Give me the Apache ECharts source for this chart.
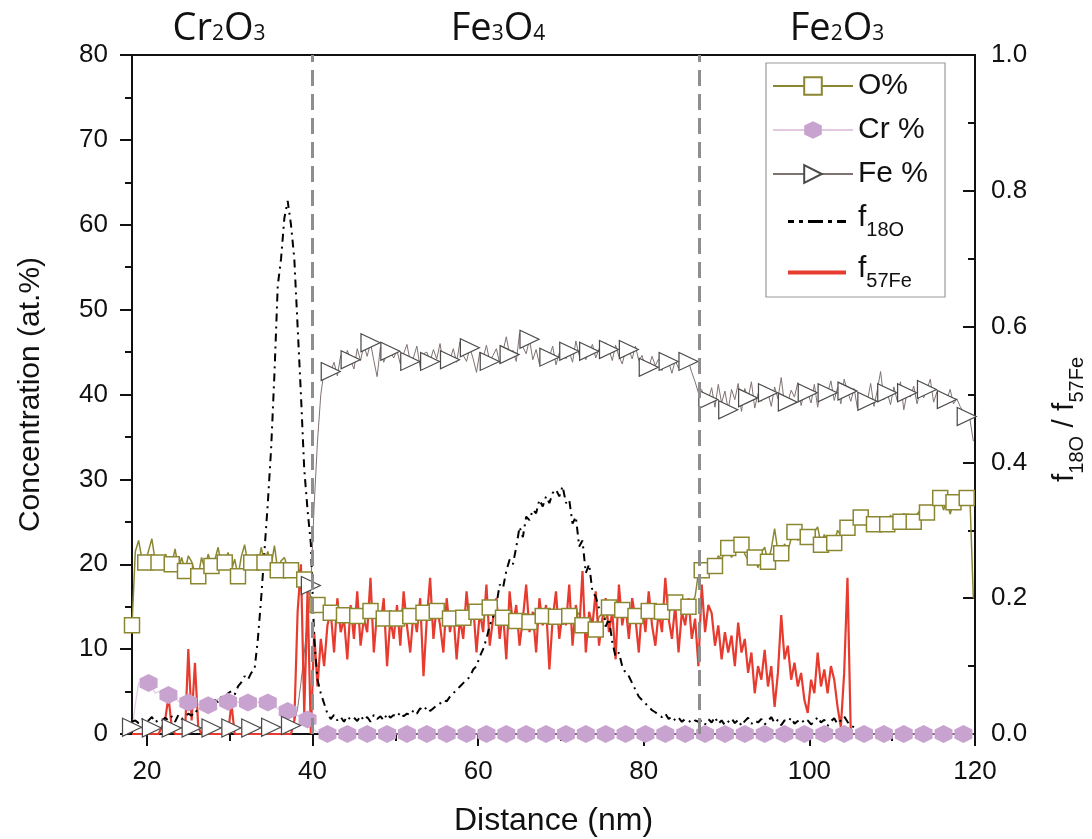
<!DOCTYPE html>
<html>
<head>
<meta charset="utf-8">
<script src="https://cdn.jsdelivr.net/npm/echarts@6/dist/echarts.min.js"></script>
<style>html,body{margin:0;padding:0;background:#fff}#c{width:1092px;height:839px}</style>
</head>
<body>
<div id="c"></div>
<script>
// Sampling grid of the depth profile (nm)
const X_START = 18.2;
const X_STEP = 0.4;

// O at.% (left axis)
const oPct = [
  12.8, 21.5, 22.8, 20.6, 20.2, 21.6, 23.0, 20.4, 20.2, 19.6,
  21.2, 20.4, 20.0, 21.8, 19.5, 20.8, 19.2, 21.0, 20.3, 19.0,
  18.6, 20.8, 19.4, 21.2, 19.8, 20.5, 22.0, 19.8, 20.2, 21.4,
  19.2, 20.6, 18.6, 20.9, 22.3, 20.0, 20.2, 21.1, 19.6, 22.0,
  20.2, 21.5, 19.8, 22.2, 19.3, 20.4, 20.8, 19.6, 19.3, 19.8,
  19.6, 19.0, 18.2, 17.0, 16.2, 15.8, 15.2, 15.0, 14.6, 14.2,
  14.3, 13.6, 14.4, 13.9, 14.0, 14.6, 13.8, 14.2, 13.9, 13.4,
  13.8, 14.3, 14.5, 13.7, 14.1, 14.0, 13.6, 14.4, 14.2, 13.8,
  13.6, 14.4, 14.8, 14.0, 13.9, 14.3, 13.5, 14.1, 14.3, 14.6,
  13.8, 14.0, 14.5, 13.9, 15.0, 14.2, 13.6, 14.0, 13.8, 14.5,
  13.7, 14.2, 14.0, 13.6, 14.4, 14.1, 13.5, 14.9, 14.9, 14.2,
  13.8, 14.3, 13.7, 14.0, 14.6, 13.9, 13.3, 14.1, 13.6, 14.2,
  13.2, 14.0, 14.4, 13.7, 13.9, 14.2, 13.6, 14.5, 13.8, 14.0,
  13.4, 14.1, 13.9, 13.5, 13.8, 14.3, 12.8, 13.6, 12.3, 13.4,
  12.3, 13.8, 14.2, 13.5, 14.9, 14.0, 14.4, 13.8, 14.6, 14.2,
  14.0, 14.6, 13.9, 14.3, 14.9, 14.1, 14.5, 13.8, 14.2, 14.6,
  14.4, 14.8, 14.2, 15.0, 15.5, 14.9, 14.6, 15.2, 15.0, 15.4,
  16.2, 19.0,
  19.3, 18.4, 20.4, 19.2, 19.8, 21.0, 20.6, 21.4, 21.9, 20.8,
  21.6, 22.8, 22.3, 21.2, 20.5, 21.6, 20.8, 19.6, 21.4, 22.0,
  20.3, 21.8, 24.2, 21.5, 21.3, 22.4, 21.6, 23.0, 23.8, 22.8,
  23.6, 22.4, 23.2, 22.6, 23.8, 24.4, 22.3, 23.5, 22.8, 23.2,
  22.5, 24.0, 23.4, 24.8, 24.3, 23.6, 24.6, 25.2, 25.5, 24.6,
  25.4, 24.2, 24.7, 25.6, 23.8, 25.2, 24.7, 25.8, 24.9, 25.4,
  25.0, 26.0, 25.3, 24.6, 25.0, 25.9, 26.4, 25.5, 26.1, 27.0,
  26.5, 27.8, 27.8, 26.4, 27.4, 25.9, 27.3, 26.8, 27.6, 27.2,
  27.8, 27.4, 16.0
];

// Cr at.% (left axis)
const crPct = [
  0.3, 3.5, 6.0, 6.2, 5.8, 6.0, 5.5, 4.8, 5.0, 4.6,
  4.4, 4.6, 4.2, 4.5, 3.8, 4.0, 3.6, 3.7, 3.4, 3.9,
  3.5, 3.2, 3.6, 3.4, 4.0, 3.6, 4.2, 3.7, 3.9, 3.8,
  3.5, 4.1, 3.7, 3.9, 3.4, 3.7, 4.0, 3.5, 3.8, 3.3,
  3.9, 3.7, 3.4, 3.2, 3.0, 2.9, 2.8, 2.7, 2.5, 2.3,
  2.2, 2.0, 1.9, 1.7, 1.2, 0.5, 0.2, 0.1, 0.1, 0,
  0, 0, 0, 0, 0, 0, 0, 0, 0, 0,
  0, 0, 0, 0, 0, 0, 0, 0, 0, 0,
  0, 0, 0, 0, 0, 0, 0, 0, 0, 0,
  0, 0, 0, 0, 0, 0, 0, 0, 0, 0,
  0, 0, 0, 0, 0, 0, 0, 0, 0, 0,
  0, 0, 0, 0, 0, 0, 0, 0, 0, 0,
  0, 0, 0, 0, 0, 0, 0, 0, 0, 0,
  0, 0, 0, 0, 0, 0, 0, 0, 0, 0,
  0, 0, 0, 0, 0, 0, 0, 0, 0, 0,
  0, 0, 0, 0, 0, 0, 0, 0, 0, 0,
  0, 0, 0, 0, 0, 0, 0, 0, 0, 0,
  0, 0, 0, 0, 0, 0, 0, 0, 0, 0,
  0, 0, 0, 0, 0, 0, 0, 0, 0, 0,
  0, 0, 0, 0, 0, 0, 0, 0, 0, 0,
  0, 0, 0, 0, 0, 0, 0, 0, 0, 0,
  0, 0, 0, 0, 0, 0, 0, 0, 0, 0,
  0, 0, 0, 0, 0, 0, 0, 0, 0, 0,
  0, 0, 0, 0, 0, 0, 0, 0, 0, 0,
  0, 0, 0, 0, 0, 0, 0, 0, 0, 0,
  0, 0, 0, 0, 0
];

// Fe at.% (left axis)
const fePct = [
  0.8, 0.6, 0.9, 0.7, 0.5, 0.8, 0.7, 0.9, 0.6, 0.8,
  0.7, 0.5, 0.7, 0.9, 0.6, 0.8, 0.7, 0.6, 0.7, 0.9,
  0.6, 0.8, 0.5, 0.7, 0.7, 0.9, 0.6, 0.8, 0.7, 0.6,
  0.7, 0.9, 0.6, 0.8, 0.7, 0.5, 0.7, 0.8, 0.6, 0.9,
  0.7, 0.6, 0.8, 0.7, 0.9, 0.7, 0.8, 0.6, 1.0, 1.4,
  3.0, 6.0, 9.5, 13.5, 17.5, 27.0, 34.5, 40.0, 42.8, 43.2,
  42.7, 43.8, 42.2, 44.6, 43.5, 45.2, 44.1, 43.0, 45.4, 44.0,
  45.8, 44.5, 46.1, 44.0, 42.1, 45.6, 43.8, 44.9, 45.1, 44.3,
  45.2, 43.6, 44.8, 45.9, 43.9, 44.4, 45.7, 43.2, 44.8, 45.0,
  43.9, 45.3, 44.2, 46.0, 43.5, 44.7, 44.1, 45.4, 43.8, 46.2,
  44.6, 43.9, 45.5, 44.2, 42.6, 45.0, 44.3, 45.8, 43.9, 44.6,
  45.4, 43.7, 45.1, 46.8, 44.7, 45.2, 43.9, 47.2, 45.6, 44.8,
  46.5, 44.1, 45.3, 43.6, 45.0, 44.8, 44.4, 45.7, 43.5, 44.9,
  45.6, 44.2, 45.1, 43.8, 46.3, 44.6, 45.0, 44.1, 45.1, 45.9,
  44.3, 45.4, 44.7, 46.1, 45.3, 44.0, 45.8, 44.5, 43.6, 45.2,
  45.3, 44.2, 45.7, 44.0, 44.6, 43.1, 43.2, 44.5, 43.4, 44.2,
  42.8, 44.6, 43.9, 42.5, 44.0, 43.1, 43.9, 44.3, 43.9, 42.6,
  41.5, 40.2, 40.6, 38.8, 39.4, 40.8, 38.5, 41.2, 39.0, 40.4,
  38.2, 40.6, 39.4, 41.3, 38.0, 40.7, 39.6, 41.5, 38.4, 40.1,
  39.2, 41.0, 40.2, 38.6, 40.9, 39.5, 42.0, 38.8, 39.1, 40.5,
  39.7, 41.4, 38.7, 40.3, 40.2, 39.0, 41.2, 38.5, 40.6, 39.8,
  40.2, 41.6, 39.3, 40.8, 38.9, 41.8, 40.4, 39.2, 40.7, 38.4,
  40.1, 39.6, 39.2, 41.3, 38.6, 40.5, 42.7, 39.4, 40.2, 38.8,
  40.9, 39.3, 41.5, 38.2, 40.2, 39.7, 41.0, 38.9, 40.4, 39.6,
  40.6, 41.8, 39.1, 40.3, 38.7, 39.8, 39.4, 40.6, 38.9, 39.5,
  38.6, 37.9, 37.4, 37.0, 34.5
];

// f(18O) fraction (right axis)
const f18O = [
  0.018, 0.02, 0.016, 0.022, 0.018, 0.02, 0.025, 0.017, 0.021, 0.019,
  0.024, 0.02, 0.026, 0.018, 0.028, 0.022, 0.025, 0.03, 0.027, 0.035,
  0.032, 0.04, 0.036, 0.045, 0.042, 0.05, 0.047, 0.055, 0.052, 0.06,
  0.063, 0.058, 0.07, 0.076, 0.085, 0.08, 0.09, 0.095, 0.14, 0.20,
  0.27, 0.34, 0.42, 0.53, 0.66, 0.70, 0.76, 0.785, 0.75, 0.70,
  0.60, 0.50, 0.39, 0.33, 0.28, 0.14, 0.08, 0.06, 0.045, 0.03,
  0.022, 0.028, 0.02, 0.025, 0.018, 0.026, 0.021, 0.024, 0.019, 0.027,
  0.02, 0.025, 0.018, 0.028, 0.022, 0.026, 0.02, 0.03, 0.024, 0.028,
  0.025, 0.032, 0.026, 0.03, 0.028, 0.035, 0.03, 0.038, 0.034, 0.04,
  0.034, 0.038, 0.042, 0.045, 0.05, 0.048, 0.055, 0.06, 0.065, 0.07,
  0.075, 0.08, 0.084, 0.095, 0.1, 0.114, 0.125, 0.14, 0.16, 0.172,
  0.19, 0.22, 0.215, 0.24, 0.257, 0.25, 0.275, 0.305, 0.29, 0.32,
  0.315, 0.33, 0.325, 0.345, 0.335, 0.35, 0.34, 0.355, 0.36, 0.35,
  0.365, 0.34, 0.345, 0.31, 0.32, 0.276, 0.285, 0.237, 0.25, 0.21,
  0.202, 0.185, 0.19, 0.158, 0.17, 0.135, 0.114, 0.12, 0.1, 0.09,
  0.085, 0.075, 0.065, 0.055, 0.05, 0.045, 0.04, 0.035, 0.032, 0.028,
  0.025, 0.03, 0.022, 0.026, 0.02, 0.024, 0.018, 0.022, 0.02, 0.016,
  0.02, 0.018, 0.02, 0.014, 0.022, 0.017, 0.025, 0.015, 0.02, 0.013,
  0.018, 0.023, 0.016, 0.021, 0.012, 0.019, 0.024, 0.015, 0.02, 0.017,
  0.022, 0.014, 0.019, 0.025, 0.016, 0.021, 0.013, 0.02, 0.018, 0.024,
  0.015, 0.019, 0.022, 0.016, 0.02, 0.014, 0.018, 0.025, 0.017, 0.021,
  0.012, 0.019, 0.023, 0.015, 0.02, 0.026, 0.018, 0.012, 0.01
];

// f(57Fe) fraction (right axis)
const f57Fe = [
  0, 0, 0, 0, 0, 0, 0, 0, 0, 0.01,
  0.02, 0.055, 0.01, 0, 0, 0, 0, 0.125, 0.02, 0.105,
  0.01, 0, 0, 0, 0, 0, 0, 0, 0, 0,
  0.045, 0, 0, 0, 0, 0, 0, 0, 0, 0,
  0, 0, 0, 0, 0, 0, 0, 0, 0, 0.02,
  0.18, 0.25, 0.03, 0.21, 0.0, 0.15, 0.07, 0.14, 0.10, 0.16,
  0.18, 0.12, 0.20, 0.15, 0.17, 0.11, 0.19, 0.14, 0.21, 0.13,
  0.17, 0.15, 0.23, 0.12, 0.18, 0.16, 0.20, 0.10, 0.17, 0.14,
  0.19, 0.13, 0.21, 0.16, 0.12, 0.18, 0.15, 0.20, 0.085, 0.17,
  0.23, 0.14, 0.19, 0.16, 0.12, 0.20, 0.15, 0.18, 0.11, 0.17,
  0.14, 0.21, 0.16, 0.19, 0.12, 0.18, 0.15, 0.22, 0.13, 0.17,
  0.20, 0.14, 0.18, 0.11, 0.21, 0.16, 0.19, 0.13, 0.17, 0.22,
  0.15, 0.18, 0.12, 0.20, 0.16, 0.19, 0.095, 0.17, 0.21, 0.14,
  0.18, 0.16, 0.22, 0.13, 0.19, 0.15, 0.24, 0.12, 0.18, 0.16,
  0.21, 0.13, 0.17, 0.20, 0.15, 0.18, 0.11, 0.22, 0.16, 0.19,
  0.14, 0.20, 0.17, 0.12, 0.19, 0.15, 0.21, 0.16, 0.13, 0.18,
  0.15, 0.23, 0.17, 0.14, 0.19, 0.12, 0.18, 0.16, 0.20, 0.14,
  0.17, 0.10, 0.22, 0.15, 0.19, 0.178, 0.13, 0.16, 0.11, 0.15,
  0.12, 0.145, 0.10, 0.164, 0.12, 0.14, 0.09, 0.12, 0.06, 0.10,
  0.08, 0.124, 0.07, 0.10, 0.04, 0.09, 0.175, 0.11, 0.13, 0.08,
  0.105, 0.07, 0.09, 0.05, 0.031, 0.08, 0.06, 0.12, 0.07, 0.095,
  0.06, 0.10, 0.08, 0.04, 0.01, 0.09, 0.23, 0, 0
];

const phaseNames = ['Cr2O3', 'Fe3O4', 'Fe2O3'];
const phaseBoundaries = [40, 86.7];
const xTickValues = [20, 40, 60, 80, 100, 120];
const xMinorTickValues = [30, 50, 70, 90, 110];
const seriesNames = ['O%', 'Cr %', 'Fe %', 'f18O', 'f57Fe'];

const FONT = 'Liberation Sans, Arial, sans-serif';
const OLIVE = '#8b8731';
const RED = '#e63b2e';

const distance = oPct.map((_, i) => Math.round((X_START + X_STEP * i) * 10) / 10);

function withMarkers(values, every, offset) {
  return values.map((v, i) => {
    const item = { value: [distance[i], v] };
    if (i < offset || (i - offset) % every !== 0) item.symbol = 'none';
    return item;
  });
}
function plain(values) {
  return values.map((v, i) => [distance[i], v]);
}
function chem(name) {
  return name.replace(/([A-Za-z]+)/g, '{b|$1}').replace(/(\d)/g, '{s|$1}');
}

const HEX = 'path://M0,-1L0.866,-0.5L0.866,0.5L0,1L-0.866,0.5L-0.866,-0.5Z';
const TRI = 'path://M0,0L1,0.5L0,1Z';
const DASHDOT_ICON = 'path://M0,0M80,22M15,9.5h6v3h-6zM26,9.5h4v3h-4zM35,9.5h15v3h-15zM55,9.5h4v3h-4zM64,9.5h9v3h-9z';
const BAR_ICON = 'path://M0,0M80,22M15,9h58v4h-58z';

const legendLabels = {
  'O%': 'O%',
  'Cr %': 'Cr %',
  'Fe %': 'Fe %',
  'f18O': '{m|f}{s|18O}',
  'f57Fe': '{m|f}{s|57Fe}'
};

const chart = echarts.init(document.getElementById('c'), null, { renderer: 'canvas' });

const axisLineStyle = { color: '#111', width: 2 };

chart.setOption({
  animation: false,
  backgroundColor: '#fff',
  grid: {
    left: 132, right: 117, top: 55, bottom: 105,
    show: true, borderColor: '#111', borderWidth: 2,
    containLabel: false, outerBoundsMode: 'none'
  },
  legend: {
    orient: 'vertical',
    left: 766, top: 63,
    itemWidth: 80, itemHeight: 22, itemGap: 14,
    padding: [8, 17, 6, 6],
    borderColor: '#9a9a9a', borderWidth: 1.2,
    backgroundColor: '#fff',
    selectedMode: false,
    textStyle: {
      fontSize: 30, fontFamily: FONT, color: '#111',
      rich: {
        m: { fontSize: 30, fontFamily: FONT, color: '#111', verticalAlign: 'bottom', padding: [0, 0, 7, 0] },
        s: { fontSize: 20, fontFamily: FONT, color: '#111', verticalAlign: 'bottom' }
      }
    },
    formatter: n => legendLabels[n],
    data: [
      { name: seriesNames[0] },
      { name: seriesNames[1] },
      { name: seriesNames[2] },
      { name: seriesNames[3], icon: DASHDOT_ICON, itemStyle: { color: '#000', borderWidth: 0 } },
      { name: seriesNames[4], icon: BAR_ICON, itemStyle: { color: RED, borderWidth: 0 } }
    ]
  },
  graphic: phaseNames.map((p, k) => ({
    type: 'text',
    x: [219, 498, 837][k],
    y: 10,
    z: 10,
    style: {
      text: chem(p),
      align: 'center',
      verticalAlign: 'top',
      rich: {
        b: { fontSize: 38, fontFamily: 'Open Sans, sans-serif', fill: '#111', verticalAlign: 'bottom' },
        s: { fontSize: 21, fontFamily: 'Open Sans, sans-serif', fill: '#111', verticalAlign: 'bottom', padding: [0, 0, 3, 0] }
      }
    }
  })),
  xAxis: [
    {
      type: 'value', min: 18.2, max: 120, position: 'bottom',
      name: 'Distance (nm)', nameLocation: 'middle', nameGap: 71,
      nameTextStyle: { fontSize: 32, fontFamily: FONT, color: '#111' },
      axisLine: { show: true, onZero: false, lineStyle: axisLineStyle },
      axisTick: { show: true, length: 12, lineStyle: axisLineStyle, customValues: xTickValues },
      axisLabel: { fontSize: 26, fontFamily: FONT, color: '#111', margin: 25, customValues: xTickValues },
      splitLine: { show: false }
    },
    {
      type: 'value', min: 18.2, max: 120, position: 'bottom',
      axisLine: { show: false, onZero: false },
      axisTick: { show: true, length: 7, lineStyle: axisLineStyle, customValues: xMinorTickValues },
      axisLabel: { show: false },
      splitLine: { show: false }
    }
  ],
  yAxis: [
    {
      type: 'value', min: 0, max: 80, interval: 10, position: 'left',
      name: 'Concentration (at.%)', nameLocation: 'middle', nameGap: 86,
      nameTextStyle: { fontSize: 30, fontFamily: FONT, color: '#111' },
      axisLine: { show: true, lineStyle: axisLineStyle },
      axisTick: { show: true, length: 12, lineStyle: axisLineStyle },
      minorTick: { show: true, splitNumber: 2, length: 7, lineStyle: axisLineStyle },
      axisLabel: { fontSize: 26, fontFamily: FONT, color: '#111', margin: 24 },
      splitLine: { show: false }, minorSplitLine: { show: false }
    },
    {
      type: 'value', min: 0, max: 1, interval: 0.2, position: 'right',
      name: '{m|f}{s|18O}{m| / f}{s|57Fe}', nameLocation: 'middle', nameGap: 75,
      nameTextStyle: {
        fontSize: 30, fontFamily: FONT, color: '#111', padding: [0, 50, 0, 0],
        rich: {
          m: { fontSize: 30, fontFamily: FONT, color: '#111', verticalAlign: 'bottom', padding: [0, 0, 7, 0] },
          s: { fontSize: 20, fontFamily: FONT, color: '#111', verticalAlign: 'bottom' }
        }
      },
      axisLine: { show: true, lineStyle: axisLineStyle },
      axisTick: { show: true, inside: true, length: 12, lineStyle: axisLineStyle },
      minorTick: { show: true, splitNumber: 2, length: 7, lineStyle: axisLineStyle },
      axisLabel: { fontSize: 26, fontFamily: FONT, color: '#111', margin: 16, formatter: v => v.toFixed(1) },
      splitLine: { show: false }, minorSplitLine: { show: false }
    }
  ],
  series: [
    {
      name: seriesNames[0], type: 'line', xAxisIndex: 0, yAxisIndex: 0,
      data: withMarkers(oPct, 4, 0),
      symbol: 'rect', symbolSize: 15, showSymbol: true, showAllSymbol: true, clip: false,
      lineStyle: { color: OLIVE, width: 1.5 },
      itemStyle: { color: '#fff', borderColor: OLIVE, borderWidth: 1.5 }
    },
    {
      name: seriesNames[1], type: 'line', xAxisIndex: 0, yAxisIndex: 0,
      data: withMarkers(crPct, 6, 5),
      symbol: HEX, symbolSize: [18, 18], showSymbol: true, showAllSymbol: true, clip: false,
      lineStyle: { color: '#e3c8e2', width: 1.2 },
      itemStyle: { color: '#c9a3cf', borderWidth: 0 }
    },
    {
      name: seriesNames[2], type: 'line', xAxisIndex: 0, yAxisIndex: 0,
      data: withMarkers(fePct, 6, 0),
      symbol: TRI, symbolSize: [19, 18], showSymbol: true, showAllSymbol: true, clip: false,
      lineStyle: { color: '#7f7370', width: 1 },
      itemStyle: { color: '#fff', borderColor: '#4a4a4a', borderWidth: 1.2 }
    },
    {
      name: seriesNames[4], type: 'line', xAxisIndex: 0, yAxisIndex: 1,
      data: plain(f57Fe),
      symbol: 'none', showSymbol: false, clip: false,
      lineStyle: { color: RED, width: 2.2 },
      itemStyle: { color: RED }
    },
    {
      name: seriesNames[3], type: 'line', xAxisIndex: 0, yAxisIndex: 1,
      data: plain(f18O),
      symbol: 'none', showSymbol: false, clip: false,
      lineStyle: { color: '#000', width: 2, type: [8, 5, 2, 5] },
      itemStyle: { color: '#000' },
      markLine: {
        silent: true, symbol: ['none', 'none'], label: { show: false },
        lineStyle: { color: '#8e8e8e', width: 3, type: [16, 8] },
        data: phaseBoundaries.map(v => ({ xAxis: v }))
      }
    }
  ]
});
</script>
</body>
</html>
